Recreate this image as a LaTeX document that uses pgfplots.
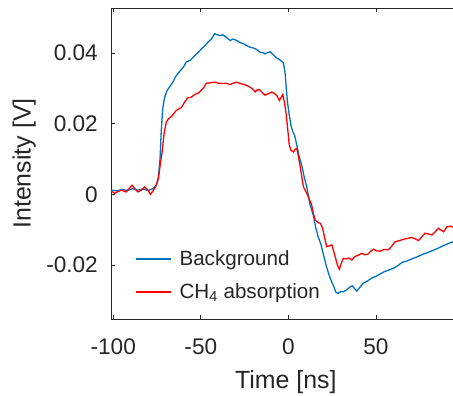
\documentclass[border=0pt]{standalone}
\usepackage{fontspec}
\setmainfont{Liberation Sans}
\usepackage{pgfplots}
\pgfplotsset{compat=1.18}
\definecolor{mblue}{rgb}{0,0.447,0.741}
\definecolor{mred}{rgb}{1,0,0}
\definecolor{tgray}{RGB}{38,38,38}
\begin{document}
\begin{tikzpicture}
\useasboundingbox (-111bp,-77bp) rectangle (342bp,319bp);
\begin{axis}[
  at={(0,0)}, anchor=south west,
  scale only axis, width=342bp, height=311bp,
  xmin=-101.3, xmax=94.0, ymin=-0.0353, ymax=0.0528,
  axis x line*=box, axis y line*=left,
  xticklabel pos=bottom,
  scaled x ticks=false, scaled y ticks=false,
  axis line style={color=tgray, line width=0.8bp},
  every tick/.style={color=tgray, line width=0.8bp},
  major tick length=4bp,
  tick align=inside,
  xtick={-100,-50,0,50}, xticklabels={-100,-50,0,50},
  ytick={-0.02,0,0.02,0.04}, yticklabels={-0.02,0,0.02,0.04},
  /pgf/number format/assume math mode=true,
  ticklabel style={font=\fontsize{22.7}{26}\selectfont, text=tgray},
  xticklabel style={inner sep=0pt, anchor=north, yshift=-20bp},
  yticklabel style={inner sep=0pt, anchor=east, xshift=-13bp},
  label style={font=\fontsize{25}{30}\selectfont, text=tgray},
  xlabel={Time [ns]},
  ylabel={Intensity [V]},
  xlabel style={at={(axis description cs:0.511,-0.222)}, anchor=base, inner sep=0pt},
  ylabel style={at={(axis description cs:-0.254,0.5)}, anchor=center, inner sep=0pt},
  legend cell align=left,
  legend style={at={(axis description cs:0.0702,0.2196)}, anchor=north west, draw=none, fill=none, inner sep=0pt,
    font=\fontsize{20.7}{24}\selectfont, text=tgray, row sep=16.5bp,
    nodes={inner sep=0pt},
    /tikz/every odd column/.append style={column sep=8bp}},
  legend image code/.code={\draw[#1] (0bp,0bp) -- (35bp,0bp);},
]
\addplot[mblue, line width=1.3bp] coordinates {
(-101.3,0.0012) (-98,0.0010) (-95,0.0014) (-92,0.0011) (-89,0.0016) (-86,0.0012) (-83,0.0015) (-80,0.0011)
(-77.5,0.0016) (-75.5,0.0025) (-74.2,0.0050) (-73.3,0.0100) (-72.6,0.0180) (-71.8,0.0240) (-70.8,0.0272)
(-69.5,0.0292) (-67.8,0.0305) (-66,0.0318) (-64.5,0.0333) (-62,0.0349) (-60,0.0360) (-58.3,0.0375)
(-56,0.0380) (-53.5,0.0393) (-51.5,0.0402) (-49.7,0.0412) (-48,0.0420) (-46,0.0431) (-44,0.0440)
(-42.1,0.0455) (-40.5,0.0452) (-39,0.0450) (-37.3,0.0452) (-35.5,0.0445) (-33.3,0.0436) (-31.5,0.0440)
(-29.5,0.0436) (-27.5,0.0430) (-25.7,0.0427) (-23.5,0.0421) (-21.9,0.0417) (-19.5,0.0414) (-18,0.0410)
(-16.2,0.0403) (-14.5,0.0401) (-13.3,0.0398) (-11.8,0.0402) (-10.5,0.0404) (-8.5,0.0395) (-6.6,0.0386)
(-4.5,0.0380) (-2.9,0.0373) (-1.9,0.0345) (-1.2,0.0300) (-0.5,0.0260) (0.5,0.0225) (1.5,0.0195)
(2.5,0.0178) (3.5,0.0168) (4.8,0.0140) (6,0.0110) (7.5,0.0085) (9,0.0050) (10.5,0.0021) (12.4,-0.0030)
(14.3,-0.0060) (15.5,-0.0092) (17,-0.0120) (18.5,-0.0140) (20,-0.0170) (21.5,-0.0200) (23,-0.0225)
(24.5,-0.0245) (26,-0.0262) (27.2,-0.0278) (28.6,-0.0280) (30,-0.0275) (31.5,-0.0276) (33.4,-0.0270)
(35.2,-0.0262) (36.5,-0.0259) (38,-0.0268) (39.1,-0.0274) (40.5,-0.0265) (42.9,-0.0251) (45,-0.0246)
(47.6,-0.0237) (50.5,-0.0231) (54.3,-0.0220) (57.5,-0.0214) (61,-0.0207) (63,-0.0200) (64.8,-0.0193)
(68,-0.0188) (71.4,-0.0181) (74,-0.0176) (77.1,-0.0169) (80.5,-0.0163) (84.8,-0.0154) (88.6,-0.0145)
(91,-0.0140) (94.1,-0.0134)
};
\addlegendentry{Background}
\addplot[mred, line width=1.3bp] coordinates {
(-101.3,0.0010) (-99.2,0.0003) (-97.3,0.0008) (-95.4,0.0012) (-92.6,0.0007) (-89.3,0.0026) (-87.5,0.0015)
(-85.9,0.0007) (-84,0.0012) (-82.1,0.0021) (-80.3,0.0012) (-78.7,0.0000) (-77,0.0012) (-75.4,0.0026)
(-74.2,0.0045) (-73.3,0.0080) (-72.2,0.0116) (-71,0.0172) (-69.7,0.0205) (-68.3,0.0215) (-66.9,0.0220)
(-65.3,0.0230) (-64,0.0238) (-61.1,0.0246) (-59.2,0.0262) (-57.3,0.0274) (-55.5,0.0275) (-53.5,0.0283)
(-51.5,0.0287) (-49.7,0.0295) (-48,0.0305) (-46.9,0.0315) (-44.5,0.0316) (-42.1,0.0318) (-40,0.0315)
(-37.3,0.0314) (-35.5,0.0315) (-33.3,0.0311) (-31.5,0.0315) (-29.5,0.0318) (-27.5,0.0314) (-25.7,0.0312)
(-23.5,0.0308) (-21.9,0.0304) (-20.3,0.0298) (-19,0.0290) (-17.8,0.0296) (-16.6,0.0297) (-15,0.0289)
(-13.3,0.0281) (-11.5,0.0285) (-9.5,0.0290) (-8,0.0286) (-6.6,0.0280) (-5.1,0.0266) (-4,0.0276)
(-3.2,0.0283) (-2.2,0.0260) (-1.3,0.0229) (-0.3,0.0180) (0.5,0.0140) (1.5,0.0125) (2.9,0.0120)
(3.8,0.0128) (4.8,0.0130) (5.8,0.0105) (6.7,0.0080) (7.8,0.0045) (8.6,0.0021) (10,0.0008) (11.4,-0.0007)
(13.3,-0.0030) (14.3,-0.0055) (15.3,-0.0073) (17.1,-0.0080) (18.3,-0.0082) (19.5,-0.0095) (20.8,-0.0125)
(21.9,-0.0148) (23.3,-0.0146) (24.8,-0.0143) (25.8,-0.0160) (26.7,-0.0176) (28,-0.0200) (29.1,-0.0212)
(30.2,-0.0195) (31.4,-0.0181) (33,-0.0183) (34.5,-0.0180) (36.2,-0.0186) (38,-0.0176) (40,-0.0172)
(41.9,-0.0167) (43.5,-0.0171) (45.2,-0.0170) (46.8,-0.0162) (48.6,-0.0155) (50.5,-0.0160) (52.4,-0.0161)
(54.5,-0.0156) (57.1,-0.0157) (59,-0.0147) (61,-0.0134) (63.5,-0.0131) (65.7,-0.0127) (68,-0.0125)
(70.5,-0.0122) (72.5,-0.0126) (74.3,-0.0131) (76.2,-0.0120) (78.1,-0.0110) (80,-0.0112) (82,-0.0115)
(84,-0.0105) (85.7,-0.0096) (87.2,-0.0101) (88.6,-0.0106) (90.5,-0.0092) (92.5,-0.0090) (94.1,-0.0093)
};
\addlegendentry{CH\textsubscript{4} absorption}
\end{axis}
\end{tikzpicture}
\end{document}
